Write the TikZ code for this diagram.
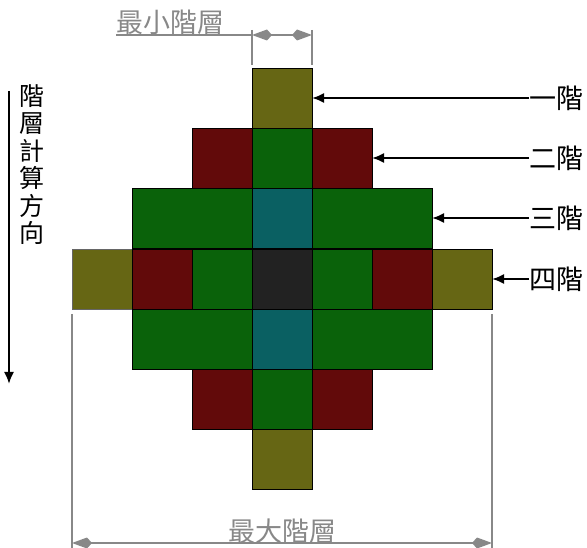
\documentclass[tikz,border=0pt]{standalone}
\usepackage{fontspec}
\setmainfont{Noto Sans CJK TC}
\usetikzlibrary{arrows.meta}
\definecolor{olivec}{RGB}{102,102,20}
\definecolor{redc}{RGB}{98,10,10}
\definecolor{greenc}{RGB}{10,98,10}
\definecolor{tealc}{RGB}{10,96,98}
\definecolor{darkc}{RGB}{34,34,34}
\definecolor{dimgray}{RGB}{136,136,136}
\tikzset{
  cell/.style={draw=black, line width=0.9pt, minimum width=60pt, minimum height=60pt, inner sep=0pt, outer sep=0pt, anchor=north west},
  wcell/.style={cell, minimum width=120pt},
  lbl/.style={font=\fontsize{27}{27}\selectfont, inner sep=0pt, anchor=west},
  dimtxt/.style={font=\fontsize{27}{27}\selectfont, text=dimgray, inner sep=0pt, anchor=south},
  blackarrow/.style={line width=2pt, -{Latex[length=12pt,width=10pt]}},
  dimline/.style={draw=dimgray, line width=1.4pt},
  dimarrow/.style={dimline, {Kite[length=20pt,width=11pt,inset=5pt]}-{Kite[length=20pt,width=11pt,inset=5pt]}}
}
\begin{document}
\begin{tikzpicture}[x=1pt,y=-1pt]
\useasboundingbox (0,0) rectangle (587,548);
% row 0
\node[cell, fill=olivec] (r0c3) at (252,68) {};
% row 1
\node[cell, fill=redc] (r1c2) at (192,128) {};
\node[cell, fill=greenc] (r1c3) at (252,128) {};
\node[cell, fill=redc] (r1c4) at (312,128) {};
% row 2
\node[wcell, fill=greenc] (r2l) at (132,188) {};
\node[cell, fill=tealc] (r2c3) at (252,188) {};
\node[wcell, fill=greenc] (r2r) at (312,188) {};
% row 3
\node[cell, fill=olivec, draw=black!60] (r3c0) at (72,249) {};
\node[cell, fill=redc] (r3c1) at (132,249) {};
\node[cell, fill=greenc] (r3c2) at (192,249) {};
\node[cell, fill=darkc] (r3c3) at (252,249) {};
\node[cell, fill=greenc] (r3c4) at (312,249) {};
\node[cell, fill=redc] (r3c5) at (372,249) {};
\node[cell, fill=olivec] (r3c6) at (432,249) {};
% row 4
\node[wcell, fill=greenc] (r4l) at (132,309) {};
\node[cell, fill=tealc] (r4c3) at (252,309) {};
\node[wcell, fill=greenc] (r4r) at (312,309) {};
% row 5
\node[cell, fill=redc] (r5c2) at (192,369) {};
\node[cell, fill=greenc] (r5c3) at (252,369) {};
\node[cell, fill=redc] (r5c4) at (312,369) {};
% row 6
\node[cell, fill=olivec] (r6c3) at (252,429) {};

% right labels
\node[lbl] (l1) at (529,98) {一階};
\node[lbl] (l2) at (529,158) {二階};
\node[lbl] (l3) at (529,218) {三階};
\node[lbl] (l4) at (529,279) {四階};
\draw[blackarrow] (l1.west) -- (r0c3.east);
\draw[blackarrow] (l2.west) -- (r1c4.east);
\draw[blackarrow] (l3.west) -- (r2r.east);
\draw[blackarrow] (l4.west) -- (r3c6.east);

% left direction arrow
\coordinate (vtop) at (9,91);
\coordinate (vbot) at (9,384);
\draw[blackarrow] (vtop) -- (vbot);
\node[font=\fontsize{25}{27.5}\selectfont, align=center, inner sep=0pt, anchor=north] (vt) at (32,84) {階\\層\\計\\算\\方\\向};

% minimum level dimension
\coordinate (mina) at (252,30);
\coordinate (minb) at (252,65);
\coordinate (minc) at (312,30);
\coordinate (mind) at (312,65);
\coordinate (minl) at (252,35);
\coordinate (minr) at (312,35);
\node[dimtxt, anchor=south west] (mint) at (116,35) {最小階層};
\draw[dimline] (mina) -- (minb);
\draw[dimline] (minc) -- (mind);
\draw[dimline] (mint.south west) -- (minl);
\draw[dimarrow] (minl) -- (minr);

% maximum level dimension
\coordinate (maxa) at (72,314);
\coordinate (maxb) at (72,548);
\coordinate (maxc) at (492,314);
\coordinate (maxd) at (492,548);
\coordinate (maxl) at (72,543);
\coordinate (maxr) at (492,543);
\draw[dimline] (maxa) -- (maxb);
\draw[dimline] (maxc) -- (maxd);
\draw[dimarrow] (maxl) -- (maxr);
\node[dimtxt] (maxt) at (282,544) {最大階層};
\end{tikzpicture}
\end{document}
